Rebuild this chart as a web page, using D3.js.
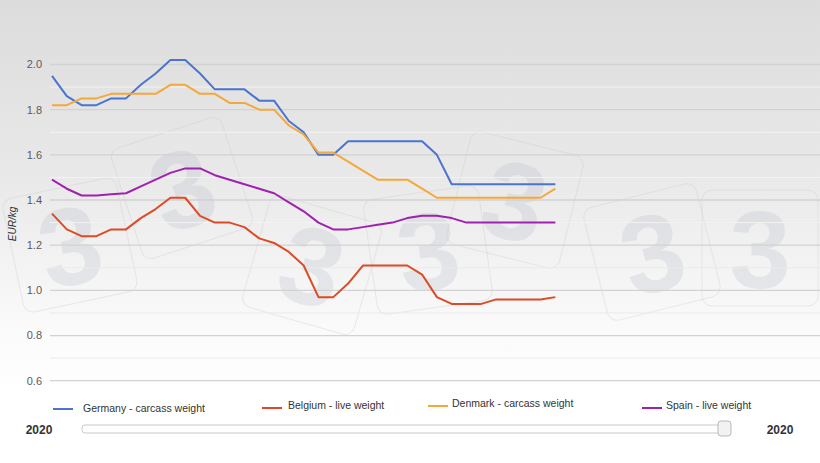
<!DOCTYPE html>
<html>
<head>
<meta charset="utf-8">
<script src="https://cdn.jsdelivr.net/npm/d3@7"></script>
<style>
  html, body { margin: 0; padding: 0; background: #fff; }
  #container { width: 820px; height: 463px; overflow: hidden; }
  text { font-family: Arial, "Liberation Sans", sans-serif; }
</style>
</head>
<body>
<div id="container"></div>
<script>
// weekly pig prices 2020, EUR/kg (weeks 1..35 of 52)
const weeks = d3.range(1, 53)
const germany = [1.95,1.86,1.82,1.82,1.85,1.85,1.91,1.96,2.02,2.02,1.96,1.89,1.89,1.89,1.84,1.84,1.75,1.70,1.60,1.60,1.66,1.66,1.66,1.66,1.66,1.66,1.60,1.47,1.47,1.47,1.47,1.47,1.47,1.47,1.47]
const belgium = [1.34,1.27,1.24,1.24,1.27,1.27,1.32,1.36,1.41,1.41,1.33,1.30,1.30,1.28,1.23,1.21,1.17,1.11,0.97,0.97,1.03,1.11,1.11,1.11,1.11,1.07,0.97,0.94,0.94,0.94,0.96,0.96,0.96,0.96,0.97]
const denmark = [1.82,1.82,1.85,1.85,1.87,1.87,1.87,1.87,1.91,1.91,1.87,1.87,1.83,1.83,1.80,1.80,1.73,1.69,1.61,1.61,1.57,1.53,1.49,1.49,1.49,1.45,1.41,1.41,1.41,1.41,1.41,1.41,1.41,1.41,1.45]
const spain = [1.49,1.45,1.42,1.42,1.425,1.43,1.46,1.49,1.52,1.54,1.54,1.51,1.49,1.47,1.45,1.43,1.39,1.35,1.30,1.27,1.27,1.28,1.29,1.30,1.32,1.33,1.33,1.32,1.30,1.30,1.30,1.30,1.30,1.30,1.30]
const seriesNames = ["Germany - carcass weight", "Belgium - live weight", "Denmark - carcass weight", "Spain - live weight"]
const yTicks = [0.6, 0.8, 1.0, 1.2, 1.4, 1.6, 1.8, 2.0]
const yMinor = [0.7, 0.9, 1.1, 1.3, 1.5, 1.7, 1.9]
const yearLabel = "2020"

const series = [
    {name: seriesNames[0], values: germany, color: "#4a74cf"},
    {name: seriesNames[1], values: belgium, color: "#dd4b26"},
    {name: seriesNames[2], values: denmark, color: "#f5a83a"},
    {name: seriesNames[3], values: spain, color: "#a020b0"}
]

const width = 820
const height = 463

const svg = d3.select("#container").append("svg")
            .attr("width", width)
            .attr("height", height)

const defs = svg.append("defs")
const grad = defs.append("linearGradient")
            .attr("id", "bg")
            .attr("x1", 0).attr("y1", 0)
            .attr("x2", 0).attr("y2", 1)
grad.append("stop").attr("offset", "0%").attr("stop-color", "#dcdcdc")
grad.append("stop").attr("offset", "45%").attr("stop-color", "#e9e9e9")
grad.append("stop").attr("offset", "85%").attr("stop-color", "#fbfbfb")
grad.append("stop").attr("offset", "100%").attr("stop-color", "#ffffff")

svg.append("rect")
    .attr("width", width)
    .attr("height", 395)
    .attr("fill", "url(#bg)")

// watermark logos
const marks = [[70, 245, -12], [182, 188, -18], [312, 265, 16], [428, 250, -8], [515, 200, 14], [652, 252, -14], [760, 248, 0]]
const wm = svg.append("g").attr("class", "watermark")
marks.forEach(m => {
    const g = wm.append("g").attr("transform", `translate(${m[0]},${m[1]}) rotate(${m[2]})`)
    g.append("rect")
        .attr("x", -58).attr("y", -58)
        .attr("width", 116).attr("height", 116)
        .attr("rx", 10)
        .attr("fill", "none")
        .attr("stroke", "rgba(200,200,205,0.35)")
    g.append("text")
        .attr("text-anchor", "middle")
        .attr("dy", "0.36em")
        .attr("font-size", 110)
        .attr("font-weight", "bold")
        .attr("fill", "rgba(175,182,195,0.25)")
        .text("3")
})

const y = d3.scaleLinear()
            .domain([0.6, 2.0])
            .range([380.7, 64.5])

const x = d3.scalePoint()
            .domain(weeks)
            .range([52, 807])

const grid = svg.append("g")
grid.selectAll(".minor")
    .data(yMinor)
    .enter()
    .append("line")
    .attr("class", "minor")
    .attr("x1", 50).attr("x2", width)
    .attr("y1", d => y(d)).attr("y2", d => y(d))
    .attr("stroke", d => d > 1.2 ? "#f2f2f2" : "#eaeaea")
    .attr("stroke-width", 1)

grid.selectAll(".major")
    .data(yTicks)
    .enter()
    .append("line")
    .attr("class", "major")
    .attr("x1", 50).attr("x2", width)
    .attr("y1", d => y(d)).attr("y2", d => y(d))
    .attr("stroke", "#d2d2d2")
    .attr("stroke-width", 1.3)

svg.selectAll(".ylab")
    .data(yTicks)
    .enter()
    .append("text")
    .attr("class", "ylab")
    .attr("x", 42)
    .attr("y", d => y(d))
    .attr("dy", "0.35em")
    .attr("text-anchor", "end")
    .attr("font-size", 11)
    .attr("fill", "#5a5a5a")
    .text(d => d.toFixed(1))

svg.append("text")
    .attr("transform", "translate(16,224) rotate(-90)")
    .attr("text-anchor", "middle")
    .attr("font-size", 10)
    .attr("font-style", "italic")
    .attr("fill", "#333")
    .text("EUR/kg")

const line = d3.line()
            .x((d, i) => x(weeks[i]))
            .y(d => y(d))

svg.selectAll(".series")
    .data(series)
    .enter()
    .append("path")
    .attr("class", "series")
    .attr("d", d => line(d.values))
    .attr("fill", "none")
    .attr("stroke", d => d.color)
    .attr("stroke-width", 2)
    .attr("stroke-linejoin", "round")

// legend
const legendX = [53, 262, 428, 642]
const legendY = [408, 407, 405, 407]
const legend = svg.selectAll(".item")
            .data(series)
            .enter()
            .append("g")
            .attr("class", "item")
            .attr("transform", (d, i) => `translate(${legendX[i]}, ${legendY[i]})`)

legend.append("line")
    .attr("x1", 0).attr("x2", 20)
    .attr("y1", 1).attr("y2", 1)
    .attr("stroke", d => d.color)
    .attr("stroke-width", 2)

legend.append("text")
    .attr("x", (d, i) => i === 0 ? 30 : i === 1 ? 26 : 24)
    .attr("y", (d, i) => i === 0 ? 0 : -2)
    .attr("dy", "0.35em")
    .attr("font-size", 10.5)
    .attr("fill", "#333")
    .text(d => d.name)

// year slider
svg.append("text")
    .attr("x", 39).attr("y", 430)
    .attr("dy", "0.35em")
    .attr("text-anchor", "middle")
    .attr("font-size", 12)
    .attr("font-weight", "bold")
    .attr("fill", "#333")
    .text(yearLabel)

svg.append("text")
    .attr("x", 780).attr("y", 430)
    .attr("dy", "0.35em")
    .attr("text-anchor", "middle")
    .attr("font-size", 12)
    .attr("font-weight", "bold")
    .attr("fill", "#333")
    .text(yearLabel)

svg.append("rect")
    .attr("x", 82).attr("y", 425)
    .attr("width", 646).attr("height", 8)
    .attr("rx", 3)
    .attr("fill", "#fff")
    .attr("stroke", "#c8c8c8")

svg.append("rect")
    .attr("x", 718).attr("y", 421)
    .attr("width", 13).attr("height", 15)
    .attr("rx", 3)
    .attr("fill", "#f2f2f2")
    .attr("stroke", "#b8b8b8")
</script>
</body>
</html>
